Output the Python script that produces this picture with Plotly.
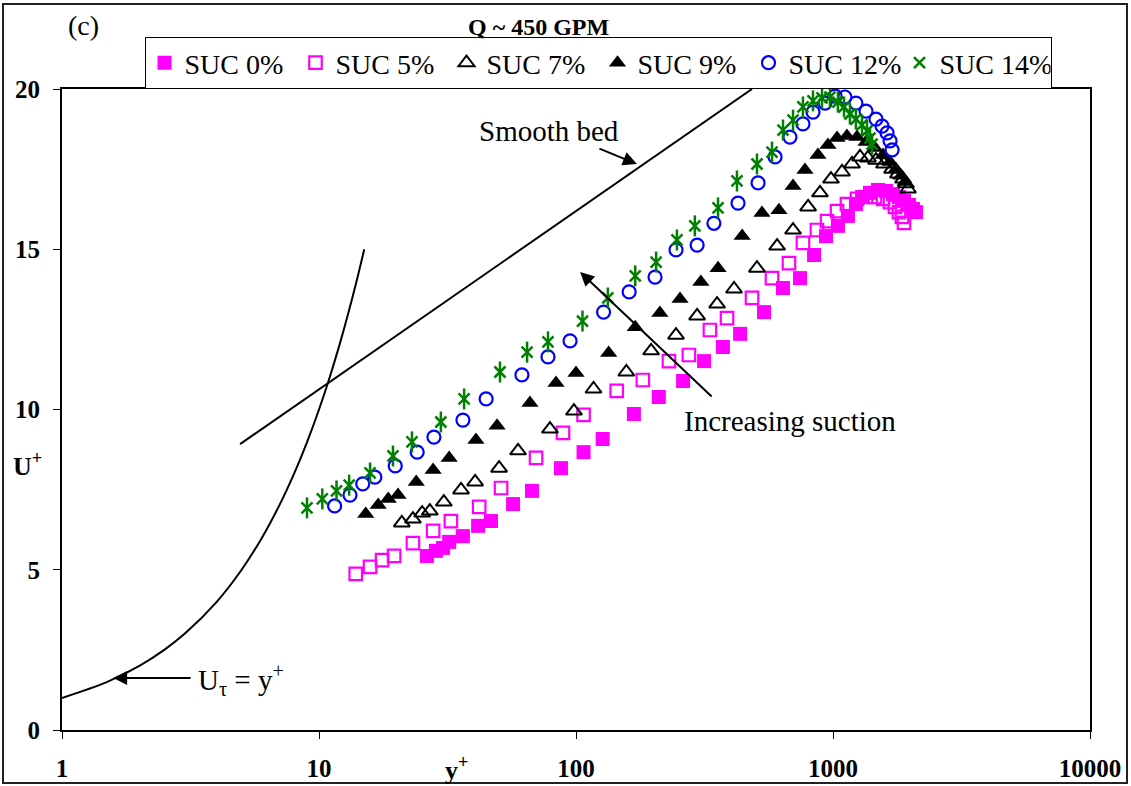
import plotly.graph_objects as go

# ---------------- data ----------------
x_suc0 = [26.3, 28.5, 30.4, 32.1, 36.3, 41.6, 46.7, 56.9, 67.4, 87.4, 107, 127, 168, 210, 261, 315, 373, 435, 539, 639,
          744, 844, 939, 1045, 1143, 1228, 1297, 1393, 1496, 1608, 1711, 1806, 1889, 1976, 2047, 2104]
y_suc0 = [5.43, 5.59, 5.68, 5.87, 6.05, 6.37, 6.52, 7.05, 7.46, 8.17, 8.67, 9.08, 9.86, 10.39, 10.89, 11.51, 11.95, 12.36, 13.04, 13.79,
          14.10, 14.82, 15.41, 15.73, 16.04, 16.41, 16.63, 16.76, 16.85, 16.82, 16.72, 16.63, 16.51, 16.38, 16.26, 16.16]

x_suc5 = [13.9, 15.8, 17.6, 19.6, 23.2, 27.8, 32.6, 42.0, 51.1, 69.9, 89.0, 107, 144, 182, 230, 275, 332, 387, 484, 579,
          674, 764, 866, 948, 1037, 1133, 1240, 1344, 1457, 1566, 1667, 1742, 1806, 1855, 1889]
y_suc5 = [4.87, 5.09, 5.30, 5.43, 5.83, 6.21, 6.52, 6.96, 7.55, 8.49, 9.27, 9.83, 10.58, 10.92, 11.51, 11.70, 12.48, 12.85, 13.48, 14.10,
          14.57, 15.20, 15.60, 15.88, 16.19, 16.41, 16.57, 16.63, 16.63, 16.57, 16.47, 16.32, 16.16, 16.01, 15.82]

x_suc7 = [21.0, 23.2, 25.2, 27.0, 30.6, 35.7, 40.5, 50.2, 59.5, 79.2, 98.2, 117, 157, 196, 245, 296, 354, 412, 506, 606,
          699, 800, 890, 982, 1084, 1186, 1274, 1368, 1470, 1579, 1698, 1790, 1872, 1923, 1958]
y_suc7 = [6.46, 6.58, 6.77, 6.83, 7.11, 7.49, 7.74, 8.17, 8.71, 9.39, 9.95, 10.64, 11.17, 11.83, 12.32, 12.92, 13.29, 13.76, 14.41, 15.10,
          15.60, 16.32, 16.76, 17.19, 17.41, 17.66, 17.88, 17.85, 17.78, 17.66, 17.50, 17.35, 17.19, 17.04, 16.88]

x_suc9 = [15.2, 17.0, 18.6, 20.3, 23.9, 27.8, 32.1, 40.8, 49.3, 66.2, 83.6, 100, 134, 170, 212, 254, 306, 357, 443, 529,
          616, 699, 778, 874, 956, 1037, 1133, 1240, 1344, 1457, 1566, 1667, 1758, 1840, 1906]
y_suc9 = [6.74, 7.02, 7.21, 7.33, 7.74, 8.11, 8.49, 9.05, 9.49, 10.20, 10.83, 11.14, 11.76, 12.57, 13.01, 13.45, 13.98, 14.41, 15.41, 16.13,
          16.22, 16.97, 17.47, 17.94, 18.25, 18.47, 18.53, 18.50, 18.35, 18.16, 17.94, 17.72, 17.50, 17.29, 17.10]

x_suc12 = [11.5, 13.2, 14.8, 16.5, 19.8, 24.1, 28.0, 36.3, 44.7, 61.6, 77.8, 94.8, 128, 161, 203, 245, 296, 344, 427, 511,
           595, 680, 764, 836, 931, 1019, 1113, 1228, 1344, 1470, 1552, 1623, 1667, 1698]
y_suc12 = [6.99, 7.33, 7.68, 7.89, 8.24, 8.67, 9.14, 9.67, 10.33, 11.08, 11.64, 12.14, 13.04, 13.67, 14.13, 14.98, 15.13, 15.81, 16.44, 17.07,
           17.88, 18.50, 18.91, 19.28, 19.56, 19.78, 19.75, 19.56, 19.31, 19.06, 18.84, 18.63, 18.38, 18.10]

x_suc14 = [8.98, 10.3, 11.7, 13.1, 15.8, 19.4, 23.0, 29.8, 36.7, 50.6, 64.5, 77.8, 106, 133, 170, 205, 247, 290, 357, 423,
           506, 579, 639, 699, 764, 836, 906, 973, 1045, 1104, 1164, 1228, 1297, 1356, 1393, 1419]
y_suc14 = [6.93, 7.21, 7.46, 7.64, 8.02, 8.55, 8.99, 9.61, 10.33, 11.17, 11.79, 12.11, 12.76, 13.48, 14.17, 14.60, 15.29, 15.73, 16.29, 17.13,
           17.66, 18.03, 18.72, 19.03, 19.44, 19.63, 19.72, 19.75, 19.59, 19.44, 19.22, 19.06, 18.88, 18.69, 18.47, 18.28]

# reference curves
x_smooth = [4.93, 484]
y_smooth = [8.92, 20.0]
x_visc = [1, 1.5, 2, 2.5, 3, 4, 5, 6, 7, 8, 9, 10, 11, 12, 13, 14, 15]
y_visc = [1, 1.5, 2, 2.5, 3, 4, 5, 6, 7, 8, 9, 10, 11, 12, 13, 14, 15]

x_ticks = [1, 10, 100, 1000, 10000]
x_ticktext = ["1", "10", "100", "1000", "10000"]
y_ticks = [0, 5, 10, 15, 20]

FONT = "Liberation Serif"
MAGENTA = "#FF00FF"
BLUE = "#0000FF"
GREEN = "#008000"

fig = go.Figure()

fig.add_trace(go.Scatter(x=x_visc, y=y_visc, mode="lines", line=dict(color="black", width=2, shape="spline"),
                         showlegend=False, hoverinfo="skip"))
fig.add_trace(go.Scatter(x=x_smooth, y=y_smooth, mode="lines", line=dict(color="black", width=2),
                         showlegend=False, hoverinfo="skip"))

fig.add_trace(go.Scatter(x=x_suc0, y=y_suc0, mode="markers", name="SUC 0%",
                         marker=dict(symbol="square", size=14, color=MAGENTA, line=dict(width=0))))
fig.add_trace(go.Scatter(x=x_suc5, y=y_suc5, mode="markers", name="SUC 5%",
                         marker=dict(symbol="square-open", size=12.5, color=MAGENTA, line=dict(width=2.2, color=MAGENTA))))
fig.add_trace(go.Scatter(x=x_suc7, y=y_suc7, mode="markers", name="SUC 7%",
                         marker=dict(symbol="triangle-up-open", size=14, color="black", line=dict(width=2, color="black"))))
fig.add_trace(go.Scatter(x=x_suc9, y=y_suc9, mode="markers", name="SUC 9%",
                         marker=dict(symbol="triangle-up", size=15, color="black", line=dict(width=0))))
fig.add_trace(go.Scatter(x=x_suc12, y=y_suc12, mode="markers", name="SUC 12%",
                         marker=dict(symbol="circle-open", size=13, color=BLUE, line=dict(width=2.2, color=BLUE))))
fig.add_trace(go.Scatter(x=x_suc14, y=y_suc14, mode="markers", name="SUC 14%", legendgroup="s14",
                         marker=dict(symbol="x-thin-open", size=11, color=GREEN, line=dict(width=2.5, color=GREEN))))
fig.add_trace(go.Scatter(x=x_suc14, y=y_suc14, mode="markers", name="SUC 14%", legendgroup="s14", showlegend=False,
                         marker=dict(symbol="line-ns-open", size=15, color=GREEN, line=dict(width=2.5, color=GREEN))))

def px_x(p):
    return (p - 62) / 1028.0

def px_y(p):
    return (730 - p) / 641.0

def label(text, px, py, size, xanchor="center"):
    return dict(text=text, x=px_x(px), y=px_y(py), xref="paper", yref="paper", showarrow=False,
                xanchor=xanchor, yanchor="middle", font=dict(family=FONT, size=size, color="black"))

annotations = [
    label("<b>Q ~ 450 GPM</b>", 538, 27, 24),
    label("(c)", 83, 25, 28),
    label("Smooth bed", 549, 131, 29),
    label("Increasing suction", 790, 421, 29),
    label("U<sub>τ</sub> = y<sup>+</sup>", 196, 680, 29, xanchor="left"),
    label("<b>U<sup>+</sup></b>", 27, 464, 26),
    label("<b>y<sup>+</sup></b>", 456, 768, 26),
    # arrows
    dict(text="", x=2.237, y=17.66, xref="x", yref="y", ax=-39, ay=-16, showarrow=True,
         arrowhead=2, arrowsize=1.4, arrowwidth=2, arrowcolor="black"),
    dict(text="", x=2.016, y=14.29, xref="x", yref="y", ax=133, ay=126, showarrow=True,
         arrowhead=2, arrowsize=1.4, arrowwidth=2, arrowcolor="black"),
    dict(text="", x=0.199, y=1.62, xref="x", yref="y", ax=79, ay=0, showarrow=True,
         arrowhead=2, arrowsize=1.4, arrowwidth=2, arrowcolor="black"),
]

shapes = [
    dict(type="rect", xref="paper", yref="paper", x0=px_x(3), x1=px_x(1127), y0=px_y(783), y1=px_y(4),
         line=dict(color="#222222", width=2), fillcolor="rgba(0,0,0,0)", layer="below"),
]

fig.update_layout(
    width=1131, height=786,
    margin=dict(l=62, r=41, t=89, b=56, autoexpand=False),
    paper_bgcolor="white", plot_bgcolor="white",
    font=dict(family=FONT, color="black"),
    annotations=annotations,
    shapes=shapes,
    showlegend=True,
    legend=dict(orientation="h", x=px_x(598), xanchor="center", y=px_y(63), yanchor="middle",
                bordercolor="black", borderwidth=1, bgcolor="white",
                font=dict(family=FONT, size=28, color="black"),
                entrywidth=106, itemsizing="trace"),
    xaxis=dict(type="log", range=[0, 4], tickvals=x_ticks, ticktext=x_ticktext, automargin=False,
               showgrid=False, zeroline=False, showline=True, linecolor="black", linewidth=2, mirror=True,
               ticks="outside", ticklen=7, tickwidth=1, tickcolor="black", ticklabelstandoff=8,
               tickfont=dict(family=FONT, size=25, color="black", weight="bold")),
    yaxis=dict(range=[0, 20], tickvals=y_ticks, automargin=False,
               showgrid=False, zeroline=False, showline=True, linecolor="black", linewidth=2, mirror=True,
               ticks="outside", ticklen=7, tickwidth=1, tickcolor="black", ticklabelstandoff=8,
               tickfont=dict(family=FONT, size=25, color="black", weight="bold")),
)

fig.write_html("out.html")
